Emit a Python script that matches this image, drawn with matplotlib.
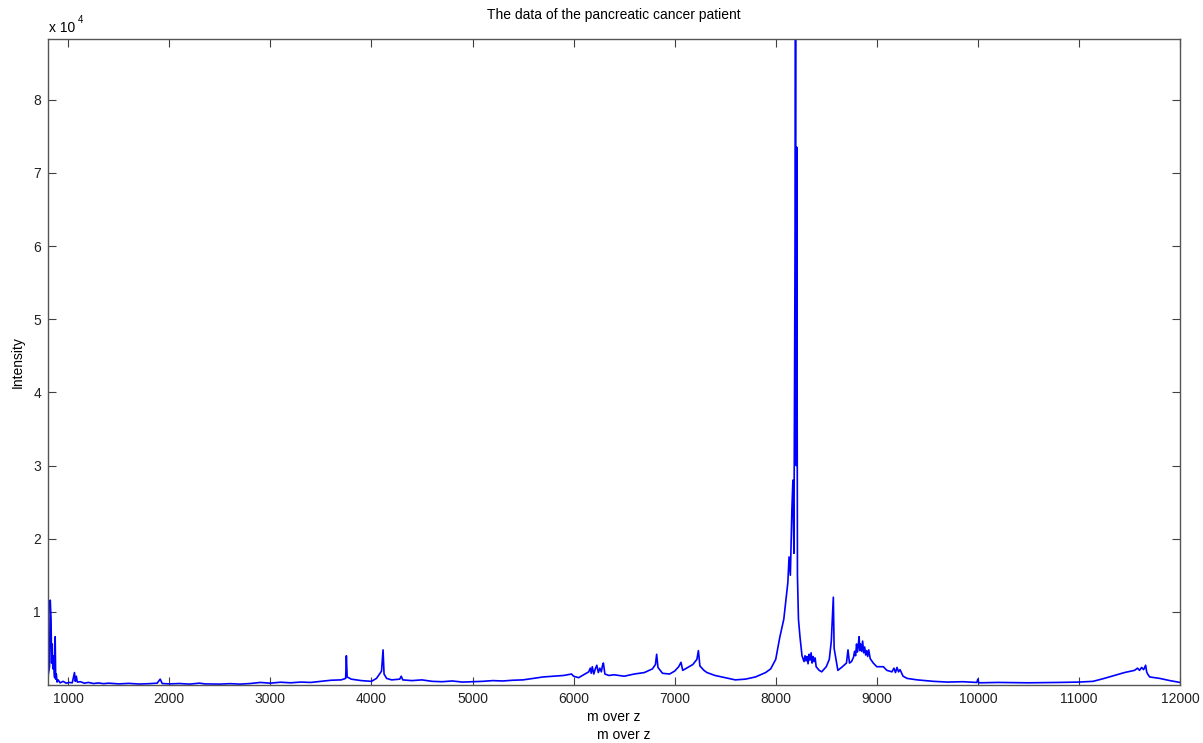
import matplotlib
matplotlib.use('Agg')
import matplotlib.pyplot as plt
from matplotlib.ticker import FuncFormatter

plt.rcParams['font.family'] = ['Liberation Sans', 'DejaVu Sans']

# spectrum vertices (m/z, intensity)
mz = [800, 815, 822, 830, 836, 842, 848, 855, 862, 866, 871, 876, 882, 890, 900, 920, 950,
      980, 1010, 1040, 1055, 1062, 1070, 1080, 1090, 1120, 1160, 1200, 1250, 1300, 1350,
      1400, 1500, 1600, 1700, 1800, 1880, 1910, 1930, 2000, 2100, 2200, 2300, 2350, 2500,
      2600, 2700, 2800, 2900, 3000, 3100, 3200, 3300, 3400, 3500, 3600, 3700, 3745, 3752,
      3760, 3800, 3900, 4000, 4050, 4100, 4115, 4125, 4150, 4200, 4280, 4295, 4310, 4400,
      4500, 4600, 4700, 4800, 4900, 5000, 5100, 5200, 5300, 5400, 5500, 5600, 5700, 5800,
      5900, 5980, 6000, 6050, 6100,
      6150, 6165, 6175, 6185, 6200, 6215, 6230, 6245, 6260, 6275, 6285, 6295, 6310,
      6350, 6400, 6500, 6600, 6700, 6780, 6810, 6822, 6835, 6880, 6950, 7000, 7040, 7063,
      7080, 7130, 7180, 7220, 7235, 7250, 7290, 7320, 7400, 7500, 7600, 7700, 7800, 7900,
      7950, 8000, 8040, 8080, 8100, 8120, 8132, 8145, 8160, 8170, 8180, 8190, 8196, 8203,
      8208, 8215, 8225, 8240, 8260,
      8280, 8290, 8300, 8310, 8320, 8330, 8340, 8350, 8360, 8370, 8380, 8390, 8400,
      8430, 8455, 8500, 8530, 8550, 8560, 8570, 8578, 8590, 8615, 8660, 8700, 8715, 8730,
      8750,
      8770, 8780, 8790, 8800, 8808, 8815, 8825, 8832, 8840, 8850, 8860, 8870, 8880, 8890,
      8900, 8910, 8920, 8935,
      8965, 9000, 9065, 9100,
      9150, 9170, 9185, 9200, 9215, 9230, 9260,
      9300, 9400, 9560, 9700, 9850, 9990, 10000, 10010, 10200, 10500, 10800, 11000, 11140,
      11250, 11350, 11450,
      11550, 11580, 11600, 11620, 11640, 11660, 11670, 11680,
      11700, 11800, 11900, 12000]
intensity = [1200, 2500, 11600, 9000, 3000, 5600, 2200, 4000, 1500, 1000, 6600, 800, 1500,
             400, 700, 300, 500, 250, 350, 300, 1300, 1700, 500, 1200, 400, 450, 250, 350, 200,
             280, 180, 250, 150, 220, 130, 180, 250, 800, 200, 150, 200, 120, 250, 150, 120,
             180, 120, 200, 350, 250, 380, 300, 400, 350, 500, 650, 700, 900, 4000, 1100,
             800, 600, 500, 900, 1900, 4800, 1500, 900, 700, 800, 1200, 700, 600, 700, 500,
             450, 550, 400, 450, 500, 600, 550, 650, 700, 900, 1100, 1200, 1300, 1500, 1200,
             1000, 1400,
             1800, 2300, 1600, 2500, 1500, 2200, 2700, 1700, 2300, 1800, 2600, 3000, 1500,
             1300, 1400, 1200, 1500, 1700, 2200, 2800, 4200, 2400, 1600, 1500, 1900, 2500,
             3100, 2000, 2400, 2800, 3500, 4700, 2600, 2000, 1700, 1300, 1000, 700, 800, 1100,
             1700, 2200, 3500, 6500, 9000, 11500, 14000, 17500, 15000, 24000, 28000, 18000,
             55000, 88300, 30000, 73500, 15000, 9000, 6600, 4000,
             3200, 4000, 3300, 3900, 2900, 4200, 3400, 4400, 3000, 3900, 3200, 3700, 2500,
             2000, 1800, 2500, 3500, 6000, 9000, 12000, 5000, 4000, 2000, 2500, 3000, 4800,
             3000, 3200,
             3800, 4600, 4000, 5600, 4500, 5200, 6600, 4700, 5600, 4600, 6000, 4400, 5200,
             4100, 4700, 3900, 4800, 3600,
             3000, 2500, 2500, 2000,
             1800, 2300, 1700, 2400, 1800, 2100, 1200,
             900, 700, 500, 400, 450, 350, 800, 300, 350, 300, 350, 400, 500, 900, 1300, 1700,
             2000, 2300, 2000, 2400, 2100, 2700, 1800, 1500,
             1100, 900, 600, 350]
assert len(mz) == len(intensity)

xticks = [1000, 2000, 3000, 4000, 5000, 6000, 7000, 8000, 9000, 10000, 11000, 12000]
yticks = [10000, 20000, 30000, 40000, 50000, 60000, 70000, 80000]

W, H = 1203, 743
fig = plt.figure(figsize=(W / 100, H / 100), dpi=100)
ax = fig.add_axes([48 / W, 1 - 685 / H, (1180 - 48) / W, (685 - 39) / H])

ax.plot(mz, intensity, color='#0000ff', linewidth=1.2)

ax.set_xlim(800, 12000)
ax.set_ylim(0, 88300)
ax.set_xticks(xticks)
ax.set_yticks(yticks)
ax.yaxis.set_major_formatter(FuncFormatter(lambda v, p: '%d' % round(v / 1e4)))
ax.tick_params(direction='in', top=True, right=True, length=6, width=0.8,
               colors='#404040', labelcolor='#222222', labelsize=10, pad=5)
for s in ax.spines.values():
    s.set_color('#555555')
    s.set_linewidth(1.0)

ax.set_title('The data of the pancreatic cancer patient', fontsize=10, pad=14.5)
ax.set_xlabel('m over z', fontsize=10, labelpad=3)
ax.set_ylabel('Intensity', fontsize=10, labelpad=6)
fig.text(624 / W, 1 - 735 / H, 'm over z', fontsize=10, ha='center', va='center')

fig.text(49 / W, 1 - 32 / H, 'x 10', fontsize=10, ha='left', va='baseline')
fig.text(78 / W, 1 - 23 / H, '4', fontsize=7, ha='left', va='baseline')

fig.savefig('out.png', dpi=100)
